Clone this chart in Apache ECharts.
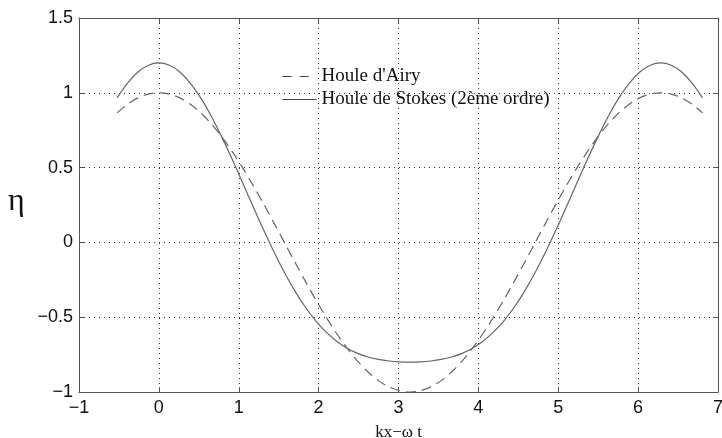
<!DOCTYPE html>
<html>
<head>
<meta charset="utf-8">
<script src="https://cdn.jsdelivr.net/npm/echarts@6/dist/echarts.min.js"></script>
<style>html,body{margin:0;padding:0;background:#fff}#c{width:722px;height:438px}</style>
</head>
<body>
<div id="c"></div>
<script>
// phase values kx - ωt
const phase = [-0.5236,-0.3927,-0.2618,-0.1309,0,0.1309,0.2618,0.3927,0.5236,0.6545,0.7854,0.9163,1.0472,1.1781,1.3090,1.4399,1.5708,1.7017,1.8326,1.9635,2.0944,2.2253,2.3562,2.4871,2.6180,2.7489,2.8798,3.0107,3.1416,3.2725,3.4034,3.5343,3.6652,3.7961,3.9270,4.0579,4.1888,4.3197,4.4506,4.5815,4.7124,4.8433,4.9742,5.1051,5.2360,5.3669,5.4978,5.6287,5.7596,5.8905,6.0214,6.1523,6.2832,6.4141,6.5450,6.6759,6.8068];
const airy = [0.8660,0.9239,0.9659,0.9914,
  1,0.9914,0.9659,0.9239,0.8660,0.7934,0.7071,0.6088,0.5,0.3827,0.2588,0.1305,0,-0.1305,-0.2588,-0.3827,-0.5,-0.6088,-0.7071,-0.7934,-0.8660,-0.9239,-0.9659,-0.9914,-1,
  -0.9914,-0.9659,-0.9239,-0.8660,-0.7934,-0.7071,-0.6088,-0.5,-0.3827,-0.2588,-0.1305,0,0.1305,0.2588,0.3827,0.5,0.6088,0.7071,0.7934,0.8660,0.9239,0.9659,0.9914,1,
  0.9914,0.9659,0.9239,0.8660];
const stokes = [0.9660,1.0653,1.1391,1.1846,
  1.2,1.1846,1.1391,1.0653,0.9660,0.8452,0.7071,0.5570,0.4,0.2413,0.0856,-0.0627,-0.2,-0.3237,-0.4320,-0.5241,-0.6,-0.6606,-0.7071,-0.7416,-0.7660,-0.7825,-0.7927,-0.7982,-0.8,
  -0.7982,-0.7927,-0.7825,-0.7660,-0.7416,-0.7071,-0.6606,-0.6,-0.5241,-0.4320,-0.3237,-0.2,-0.0627,0.0856,0.2413,0.4,0.5570,0.7071,0.8452,0.9660,1.0653,1.1391,1.1846,1.2,
  1.1846,1.1391,1.0653,0.9660];
const seriesNames = ["Houle d'Airy", "Houle de Stokes (2ème ordre)"];
const xTicks = {min: -1, max: 7, interval: 1};
const yTicks = {min: -1, max: 1.5, interval: 0.5};

const chart = echarts.init(document.getElementById('c'));
const axisCol = '#555';
const lbl = {color: '#111', fontFamily: 'Liberation Sans, Arial', fontSize: 18};
const grid = {type: [1, 4], color: '#333', width: 1};
function fmt(v){ return String(v).replace('-', '\u2212'); }
const boxLine = {show: true, onZero: false, lineStyle: {color: axisCol}};
const tick = {show: true, inside: true, length: 5, lineStyle: {color: axisCol}};
chart.setOption({
  animation: false,
  backgroundColor: '#fff',
  grid: {left: 79, right: 4, top: 18, bottom: 46, containLabel: false, outerBoundsMode: 'none'},
  legend: {
    orient: 'vertical', left: 277, top: 62, itemWidth: 34, itemHeight: 10, itemGap: 4,
    itemStyle: {opacity: 0},
    textStyle: {fontFamily: 'Liberation Serif, Times New Roman', fontSize: 19, color: '#111'},
    data: [
      {name: seriesNames[0], lineStyle: {type: [9, 8], width: 1.2, color: '#444'}},
      {name: seriesNames[1], lineStyle: {width: 1.2, color: '#444'}}
    ]
  },
  graphic: [{
    type: 'text', left: 8, top: 186,
    style: {text: 'η', font: '32px "Liberation Serif"', fill: '#111'}
  }],
  xAxis: [{
    type: 'value', min: xTicks.min, max: xTicks.max, interval: xTicks.interval,
    name: 'kx\u2212ω t', nameLocation: 'middle', nameGap: 32,
    nameTextStyle: {fontFamily: 'Liberation Serif', fontSize: 17, color: '#111'},
    axisLine: boxLine, axisTick: tick,
    axisLabel: Object.assign({margin: 7, formatter: fmt}, lbl),
    splitLine: {show: true, lineStyle: grid}
  }, {
    type: 'value', position: 'top', min: xTicks.min, max: xTicks.max, interval: xTicks.interval,
    axisLine: boxLine, axisTick: tick,
    axisLabel: {show: false}, splitLine: {show: false}
  }],
  yAxis: [{
    type: 'value', min: yTicks.min, max: yTicks.max, interval: yTicks.interval,
    axisLine: boxLine, axisTick: tick,
    axisLabel: Object.assign({margin: 6, formatter: fmt}, lbl),
    splitLine: {show: true, lineStyle: grid}
  }, {
    type: 'value', position: 'right', min: yTicks.min, max: yTicks.max, interval: yTicks.interval,
    axisLine: boxLine, axisTick: tick,
    axisLabel: {show: false}, splitLine: {show: false}
  }],
  series: [{
    name: seriesNames[0], type: 'line', smooth: 0.3, showSymbol: false, symbol: 'none',
    data: phase.map((x, i) => [x, airy[i]]),
    lineStyle: {color: '#666', width: 1.2, type: [10, 6]}, itemStyle: {color: '#666'}
  }, {
    name: seriesNames[1], type: 'line', smooth: 0.3, showSymbol: false, symbol: 'none',
    data: phase.map((x, i) => [x, stokes[i]]),
    lineStyle: {color: '#666', width: 1.2}, itemStyle: {color: '#666'}
  }]
});
</script>
</body>
</html>
